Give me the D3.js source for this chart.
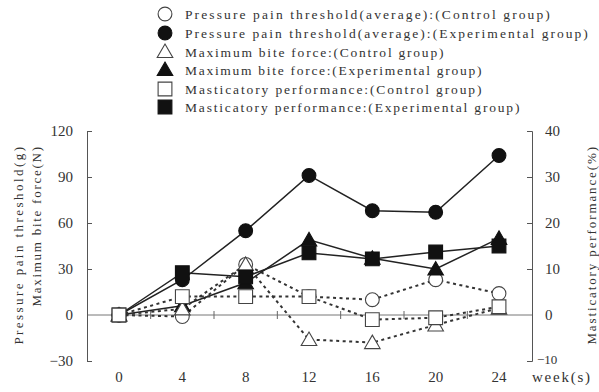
<!DOCTYPE html>
<html>
<head>
<meta charset="utf-8">
<script src="https://cdn.jsdelivr.net/npm/d3@7"></script>
<style>
  body { margin: 0; background: #fff; }
  text { font-family: "Liberation Serif", "DejaVu Serif", serif; fill: #333; }
</style>
</head>
<body>
<svg width="599" height="392"></svg>
<script>
// data
var weeks = [0, 4, 8, 12, 16, 20, 24];
var painControl = [0, -1, 33, 12, 10, 23, 14];
var painExperimental = [0, 23, 55, 91, 68, 67, 104];
var biteControl = [0, 4, 33, -16, -18, -6.5, 4.5];
var biteExperimental = [0, 6, 21, 49, 37, 30, 50];
var mastControl = [0, 4, 4, 4, -1, -0.6, 1.8];
var mastExperimental = [0, 9.2, 8.3, 13.5, 12.2, 13.7, 15];
var leftTicks = [-30, 0, 30, 60, 90, 120];
var rightTicks = [-10, 0, 10, 20, 30, 40];
var midTicks = [2, 6, 10, 14, 18, 22];
var legendLabels = [
  "Pressure pain threshold(average):(Control group)",
  "Pressure pain threshold(average):(Experimental group)",
  "Maximum bite force:(Control group)",
  "Maximum bite force:(Experimental group)",
  "Masticatory performance:(Control group)",
  "Masticatory performance:(Experimental group)"
];

var svg = d3.select("svg");
var ink = "#222", axisInk = "#555", charW = 7.6;

var x = d3.scaleLinear().domain([0, 24]).range([119, 499]);
var yL = d3.scaleLinear().domain([-30, 120]).range([361, 131]);
var yR = d3.scaleLinear().domain([-10, 40]).range([361, 131]);

// series: drawn in this order so overlaps stack like the original
var series = [
  { values: painExperimental, y: yL, shape: "circle", filled: true, dash: null },
  { values: painControl, y: yL, shape: "circle", filled: false, dash: "3,3.5" },
  { values: biteExperimental, y: yL, shape: "triangle", filled: true, dash: null },
  { values: biteControl, y: yL, shape: "triangle", filled: false, dash: "3,3.5" },
  { values: mastExperimental, y: yR, shape: "square", filled: true, dash: null },
  { values: mastControl, y: yR, shape: "square", filled: false, dash: "3,3.5" }
];

// zero line with crossing ticks
svg.append("line")
    .attr("x1", 87).attr("x2", 532)
    .attr("y1", yL(0)).attr("y2", yL(0))
    .attr("stroke", "#777").attr("stroke-width", 1);
svg.selectAll(".midtick")
  .data(midTicks)
  .enter().append("line")
    .attr("class", "midtick")
    .attr("x1", function(d) { return x(d); }).attr("x2", function(d) { return x(d); })
    .attr("y1", yL(0) - 4).attr("y2", yL(0) + 4)
    .attr("stroke", "#666");

// left axis (ticks point inward)
var gl = svg.append("g").attr("transform", "translate(87,0)")
  .call(d3.axisLeft(yL).tickValues(leftTicks).tickSizeInner(-5).tickSizeOuter(-5).tickPadding(14));
// right axis
var gr = svg.append("g").attr("transform", "translate(532,0)")
  .call(d3.axisRight(yR).tickValues(rightTicks).tickSizeInner(-5).tickSizeOuter(-5).tickPadding(13));
[gl, gr].forEach(function(g) {
  g.select(".domain").attr("stroke", axisInk);
  g.selectAll(".tick line").attr("stroke", axisInk);
  g.selectAll(".tick text").style("font-family", "'Liberation Serif', serif")
    .style("font-size", "15px").attr("fill", "#333");
  g.selectAll(".tick").filter(function(d) { return d === 0; }).select("line").remove();
});
gr.selectAll(".tick").filter(function(d) { return d === -10; }).select("text")
    .attr("x", 5).attr("dy", "0.2em").style("font-size", "13px");

// x labels
svg.selectAll(".xlab")
  .data(weeks)
  .enter().append("text")
    .attr("class", "xlab")
    .attr("x", function(d) { return x(d); })
    .attr("y", 382)
    .attr("text-anchor", "middle")
    .style("font-size", "15px")
    .text(function(d) { return d; });
svg.append("text")
    .attr("x", 532).attr("y", 382)
    .attr("textLength", 58).attr("lengthAdjust", "spacing")
    .style("font-size", "15px")
    .text("week(s)");

// axis titles
function vtitle(tx, str) {
  svg.append("text")
      .attr("transform", "translate(" + tx + ",147) rotate(-90)")
      .attr("text-anchor", "end")
      .attr("textLength", str.length * charW).attr("lengthAdjust", "spacing")
      .style("font-size", "13px")
      .text(str);
}
vtitle(23, "Pressure pain threshold(g)");
vtitle(41, "Maximum bite force(N)");
vtitle(596, "Masticatory performance(%)");

// marker helper
function marker(sel, shape, filled) {
  var sym = shape === "circle" ? d3.symbolCircle : shape === "triangle" ? d3.symbolTriangle : d3.symbolSquare;
  var size = shape === "circle" ? 150 : shape === "triangle" ? 105 : 190;
  sel.append("path")
      .attr("d", d3.symbol().type(sym).size(size)())
      .attr("fill", filled ? "#111" : "#fff")
      .attr("stroke", filled ? "#111" : "#444")
      .attr("stroke-width", 1.1);
}

var line = d3.line();
series.forEach(function(s) {
  var pts = weeks.map(function(w, i) { return [x(w), s.y(s.values[i])]; });
  svg.append("path")
      .attr("d", line(pts))
      .attr("fill", "none")
      .attr("stroke", s.dash ? "#333" : ink)
      .attr("stroke-width", s.dash ? 2 : 1.5)
      .attr("stroke-dasharray", s.dash);
});
series.forEach(function(s) {
  weeks.forEach(function(w, i) {
    var g = svg.append("g")
        .attr("transform", "translate(" + x(w) + "," + (s.y(s.values[i]) + (s.shape === "triangle" ? 1.5 : 0)) + ")");
    marker(g, s.shape, s.filled);
  });
});

// legend
var legendShapes = ["circle", "circle", "triangle", "triangle", "square", "square"];
var legendRows = [14, 33, 52, 70, 89, 107];
legendLabels.forEach(function(lab, i) {
  var g = svg.append("g").attr("transform", "translate(165," + (legendRows[i] + (legendShapes[i] === "triangle" ? 1 : 0)) + ")");
  marker(g, legendShapes[i], i % 2 === 1);
  svg.append("text")
      .attr("x", 185).attr("y", legendRows[i] + 4.5)
      .attr("textLength", lab.length * charW).attr("lengthAdjust", "spacing")
      .style("font-size", "13.5px")
      .text(lab);
});
</script>
</body>
</html>
